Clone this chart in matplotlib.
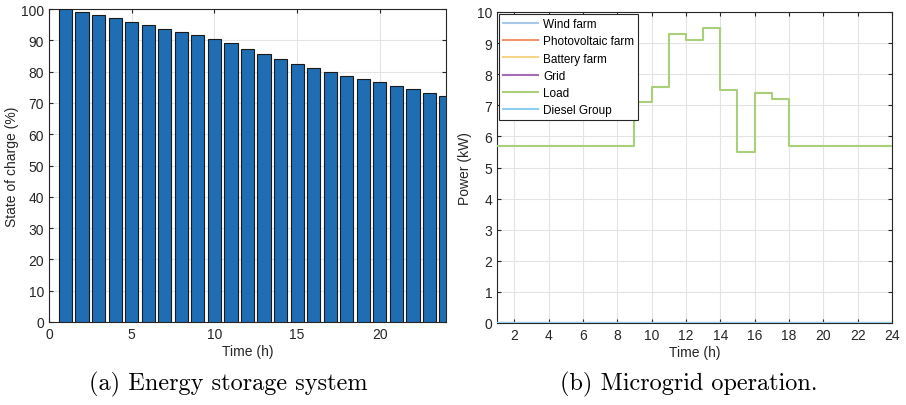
import numpy as np
import matplotlib
matplotlib.use('Agg')
import matplotlib.pyplot as plt

# state of charge of the battery bank, one bar per hour
hours = np.arange(1, 25)
soc = [100, 99.2, 98.1, 97.1, 96.0, 94.9, 93.7, 92.8, 91.7, 90.4, 89.1, 87.2,
       85.6, 84.0, 82.5, 81.3, 79.9, 78.7, 77.5, 76.6, 75.4, 74.5, 73.2, 72.3]

# microgrid power per hour (kW)
load_kw = [5.7, 5.7, 5.7, 5.7, 5.7, 5.7, 5.7, 5.7, 7.1, 7.6, 9.3, 9.1,
           9.5, 7.5, 5.5, 7.4, 7.2, 5.7, 5.7, 5.7, 5.7, 5.7, 5.7, 5.7]
wind_kw = [0] * 24
pv_kw = [0] * 24
battery_kw = [0] * 24
grid_kw = [0] * 24
diesel_kw = [0] * 24

series_names = ['Wind farm', 'Photovoltaic farm', 'Battery farm', 'Grid', 'Load', 'Diesel Group']
series_colors = ['#a8c8e8', '#f0956e', '#f5d48a', '#a46cb2', '#a9cf7a', '#8ecff0']

plt.rcParams['font.family'] = ['Liberation Sans', 'DejaVu Sans']
txt = '#262626'

fig = plt.figure(figsize=(9.06, 4.06), dpi=100)
W, H = 906, 406
ax1 = fig.add_axes([49 / W, (H - 323) / H, (446 - 49) / W, (323 - 10) / H])
ax2 = fig.add_axes([497 / W, (H - 324) / H, (892 - 497) / W, (324 - 13) / H])

# (a) bars
ax1.bar(hours, soc, width=0.8, color='#1f6eb4', edgecolor='#1a1a1a', linewidth=0.8, zorder=3)
ax1.set_xlim(0, 24)
ax1.set_ylim(0, 100)
ax1.set_xticks([0, 5, 10, 15, 20])
ax1.set_yticks(np.arange(0, 101, 10))
ax1.set_xlabel('Time (h)', fontsize=10, color=txt, labelpad=2)
ax1.set_ylabel('State of charge (%)', fontsize=10, color=txt)
ax1.yaxis.set_label_coords(-0.076, 0.5)

# (b) step lines
all_series = [wind_kw, pv_kw, battery_kw, grid_kw, load_kw, diesel_kw]
for vals, name, col in zip(all_series, series_names, series_colors):
    ax2.step(hours, vals, where='post', color=col, linewidth=1.5, label=name, zorder=3)
ax2.set_xlim(1, 24)
ax2.set_ylim(0, 10)
ax2.set_xticks(np.arange(2, 25, 2))
ax2.set_yticks(np.arange(0, 11, 1))
ax2.set_xlabel('Time (h)', fontsize=10, color=txt, labelpad=2)
ax2.set_ylabel('Power (kW)', fontsize=10, color=txt)
ax2.yaxis.set_label_coords(-0.063, 0.5)
leg = ax2.legend(loc='upper left', fontsize=8.5, fancybox=False, framealpha=1,
                 edgecolor=txt, borderaxespad=0.2, handlelength=3.0,
                 labelspacing=0.45, borderpad=0.3, handletextpad=0.4)
leg.get_frame().set_linewidth(0.8)

for ax in (ax1, ax2):
    ax.grid(True, color='#e3e3e3', linewidth=0.8, zorder=0)
    ax.set_axisbelow(True)
    ax.tick_params(direction='in', length=3, labelsize=10, colors=txt, top=True, right=True,
                   labeltop=False, labelright=False)
    for s in ax.spines.values():
        s.set_color(txt)
        s.set_linewidth(0.8)

fig.text(228 / W, 1 - 384 / H, '(a) Energy storage system', family='cmr10',
         fontsize=17.5, ha='center', va='center', color='black')
fig.text(689 / W, 1 - 384 / H, '(b) Microgrid operation.', family='cmr10',
         fontsize=17.5, ha='center', va='center', color='black')

fig.savefig('out.png', dpi=100)
plt.close()
